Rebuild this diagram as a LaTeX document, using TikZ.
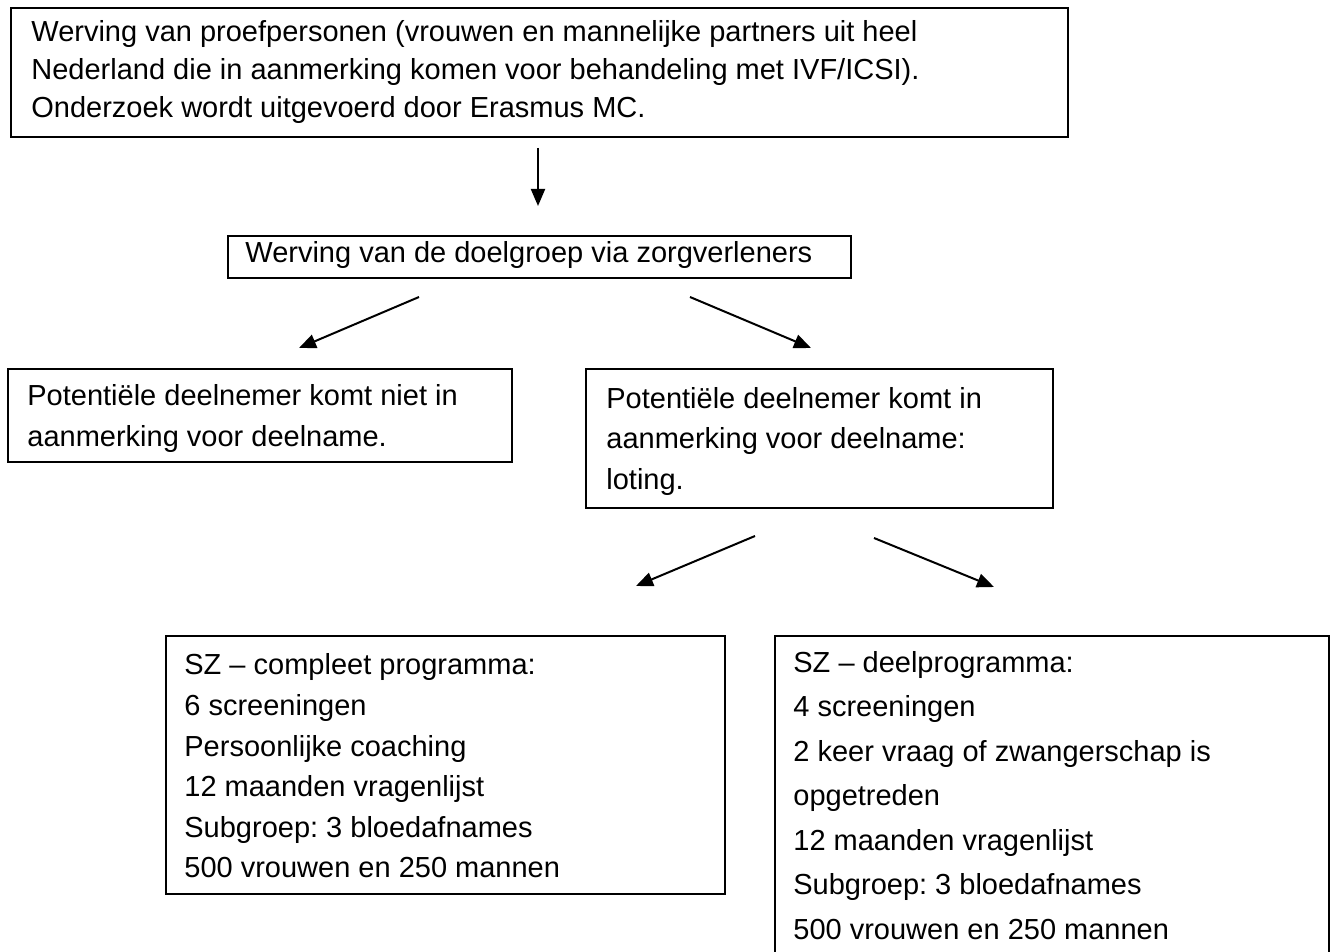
\documentclass[tikz,border=0pt]{standalone}
\usepackage{fontspec}
\setmainfont{Liberation Sans}
\usetikzlibrary{arrows.meta}
\frenchspacing
\begin{document}
\begin{tikzpicture}[x=0.5pt,y=-0.5pt,
  box/.style={draw, line width=1.1pt, inner sep=0pt, anchor=north west},
  txt/.style={anchor=base west, inner sep=0pt, font=\fontsize{14.5}{17}\selectfont},
  arr/.style={line width=1pt, -{Triangle[length=8.5pt,width=7pt]}}]
\useasboundingbox (0,0) rectangle (1335,952);

% boxes
\node[box, minimum width=528.5pt, minimum height=64.5pt] (b1) at (10,7) {};
\node[box, minimum width=311.5pt, minimum height=21pt] (b2) at (227,235) {};
\node[box, minimum width=252pt, minimum height=46.5pt] (b3) at (7,368) {};
\node[box, minimum width=233.5pt, minimum height=69.5pt] (b4) at (585,368) {};
\node[box, minimum width=279.5pt, minimum height=129pt] (b5) at (165,635) {};
\node[box, minimum width=277pt, minimum height=172.5pt] (b6) at (774,635) {};

% texts
\node[txt] (t1a) at (31,42) {Werving van proefpersonen (vrouwen en mannelijke partners uit heel};
\node[txt] (t1b) at (31,80) {Nederland die in aanmerking komen voor behandeling met IVF/ICSI).};
\node[txt] (t1c) at (31,118) {Onderzoek wordt uitgevoerd door Erasmus MC.};

\node[txt] (t2a) at (245,263) {Werving van de doelgroep via zorgverleners};

\node[txt] (t3a) at (27,406) {Potentiële deelnemer komt niet in};
\node[txt] (t3b) at (27,447) {aanmerking voor deelname.};

\node[txt] (t4a) at (606,409) {Potentiële deelnemer komt in};
\node[txt] (t4b) at (606,449) {aanmerking voor deelname:};
\node[txt] (t4c) at (606,489) {loting.};

\node[txt] (t5a) at (184,675) {SZ – compleet programma:};
\node[txt] (t5b) at (184,715.5) {6 screeningen};
\node[txt] (t5c) at (184,756) {Persoonlijke coaching};
\node[txt] (t5d) at (184,796.5) {12 maanden vragenlijst};
\node[txt] (t5e) at (184,837) {Subgroep: 3 bloedafnames};
\node[txt] (t5f) at (184,877.5) {500 vrouwen en 250 mannen};

\node[txt] (t6a) at (793,672) {SZ – deelprogramma:};
\node[txt] (t6b) at (793,716.5) {4 screeningen};
\node[txt] (t6c) at (793,761) {2 keer vraag of zwangerschap is};
\node[txt] (t6d) at (793,805.5) {opgetreden};
\node[txt] (t6e) at (793,850) {12 maanden vragenlijst};
\node[txt] (t6f) at (793,894.5) {Subgroep: 3 bloedafnames};
\node[txt] (t6g) at (793,939) {500 vrouwen en 250 mannen};

% arrow end points
\coordinate (a0s) at (538,148);
\coordinate (a0e) at (538,206);
\coordinate (a1s) at (419,297);
\coordinate (a1e) at (299,348);
\coordinate (a2s) at (690,297);
\coordinate (a2e) at (811,348);
\coordinate (a3s) at (755,536);
\coordinate (a3e) at (636,586);
\coordinate (a4s) at (874,538);
\coordinate (a4e) at (994,587);

\draw[arr] (a0s) -- (a0e);
\draw[arr] (a1s) -- (a1e);
\draw[arr] (a2s) -- (a2e);
\draw[arr] (a3s) -- (a3e);
\draw[arr] (a4s) -- (a4e);
\end{tikzpicture}
\end{document}
